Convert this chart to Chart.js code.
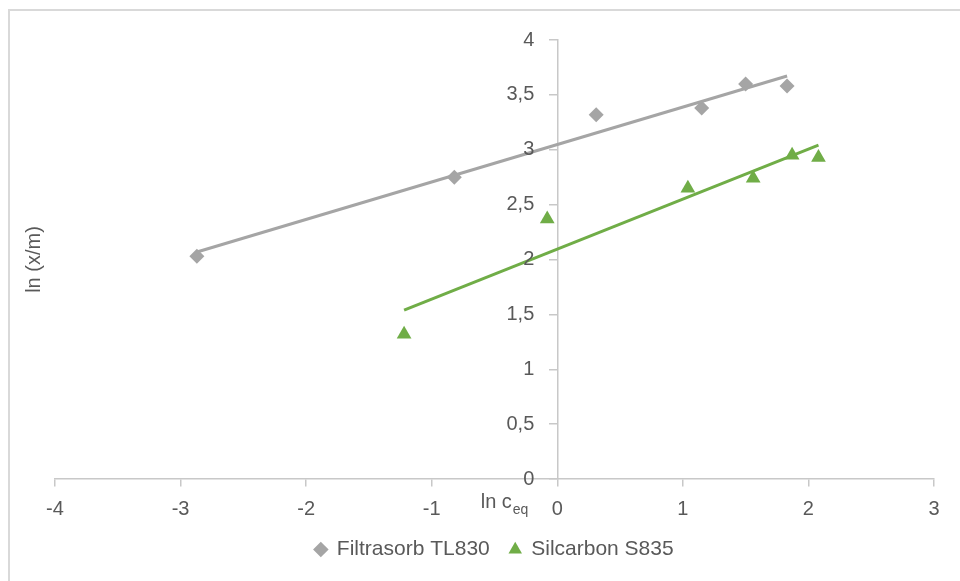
<!DOCTYPE html>
<html>
<head>
<meta charset="utf-8">
<script src="https://cdn.jsdelivr.net/npm/chart.js@4.4.1/dist/chart.umd.min.js"></script>
<style>
  html, body { margin: 0; padding: 0; background: #ffffff; }
  #wrap { width: 960px; height: 581px; }
</style>
</head>
<body>
<div id="wrap"><canvas id="isothermChart" width="960" height="581"></canvas></div>
<script>
// ln c_eq / ln (x/m)
const filtrasorbX = [-2.87, -0.82, 0.31, 1.15, 1.50, 1.83];
const filtrasorbY = [2.03, 2.75, 3.32, 3.38, 3.60, 3.58];
const silcarbonX = [-1.22, -0.08, 1.04, 1.56, 1.87, 2.08];
const silcarbonY = [1.32, 2.37, 2.65, 2.74, 2.95, 2.93];

const seriesNames = ['Filtrasorb TL830', 'Silcarbon S835'];
const xTicks = [-4, -3, -2, -1, 0, 1, 2, 3];
const yTicks = [0, 0.5, 1, 1.5, 2, 2.5, 3, 3.5, 4];

const textColor = '#595959';
const axisColor = '#c8c8c8';
const fontFamily = '"Liberation Sans", Arial, sans-serif';

function toPoints(xs, ys) {
    return xs.map((x, i) => ({ x: x, y: ys[i] }));
}

function commaLabel(v) {
    return String(v).replace('.', ',');
}

// linear least squares trendline, spanning the data range
function trendLine(xs, ys) {
    const n = xs.length;
    const mx = xs.reduce((a, b) => a + b, 0) / n;
    const my = ys.reduce((a, b) => a + b, 0) / n;
    let sxy = 0, sxx = 0;
    for (let i = 0; i < n; i++) {
        sxy += (xs[i] - mx) * (ys[i] - my);
        sxx += (xs[i] - mx) * (xs[i] - mx);
    }
    const slope = sxy / sxx;
    const icpt = my - slope * mx;
    const x0 = Math.min(...xs), x1 = Math.max(...xs);
    return [{ x: x0, y: icpt + slope * x0 }, { x: x1, y: icpt + slope * x1 }];
}

// frame, y tick labels (axis sits at x = 0) and axis titles
const extrasPlugin = {
    id: 'extras',
    beforeDraw(chart) {
        const ctx = chart.ctx;
        ctx.save();
        ctx.strokeStyle = '#d9d9d9';
        ctx.lineWidth = 2;
        ctx.strokeRect(9, 10, 1200, 1200);
        ctx.restore();
    },
    afterDraw(chart) {
        const ctx = chart.ctx;
        const area = chart.chartArea;
        const xs = chart.scales.x;
        const ys = chart.scales.y;
        ctx.save();
        ctx.fillStyle = textColor;
        ctx.font = '20px ' + fontFamily;

        // y tick labels, left of the crossing axis
        const axisX = xs.getPixelForValue(0);
        ctx.textAlign = 'right';
        ctx.textBaseline = 'middle';
        ys.ticks.forEach(t => {
            ctx.fillText(commaLabel(t.value), axisX - 23, ys.getPixelForValue(t.value));
        });

        // y title
        ctx.translate(34, (area.top + area.bottom) / 2);
        ctx.rotate(-Math.PI / 2);
        ctx.textAlign = 'center';
        ctx.fillText('ln (x/m)', 0, 0);
        ctx.setTransform(1, 0, 0, 1, 0, 0);

        // x title with subscript
        const left = xs.getPixelForValue(-0.61);
        const base = area.bottom + 29;
        ctx.textAlign = 'left';
        ctx.textBaseline = 'alphabetic';
        ctx.fillText('ln c', left, base);
        const w = ctx.measureText('ln c').width;
        ctx.font = '14px ' + fontFamily;
        ctx.fillText('eq', left + w + 1, base + 6);
        ctx.restore();
    }
};

const ctx = document.getElementById('isothermChart').getContext('2d');

const isothermChart = new Chart(ctx, {
    type: 'scatter',
    data: {
        datasets: [
            {
                label: seriesNames[0] + ' trend',
                data: trendLine(filtrasorbX, filtrasorbY),
                showLine: true,
                borderColor: '#a5a5a5',
                borderWidth: 3,
                pointRadius: 0,
                order: 0
            },
            {
                label: seriesNames[1] + ' trend',
                data: trendLine(silcarbonX, silcarbonY),
                showLine: true,
                borderColor: '#70ad47',
                borderWidth: 3,
                pointRadius: 0,
                order: 0
            },
            {
                label: seriesNames[0],
                data: toPoints(filtrasorbX, filtrasorbY),
                pointStyle: 'rectRot',
                pointRadius: 7.5,
                backgroundColor: '#a5a5a5',
                borderColor: '#a5a5a5',
                borderWidth: 0,
                order: 1
            },
            {
                label: seriesNames[1],
                data: toPoints(silcarbonX, silcarbonY),
                pointStyle: 'triangle',
                pointRadius: 8.5,
                backgroundColor: '#70ad47',
                borderColor: '#70ad47',
                borderWidth: 0,
                order: 1
            }
        ]
    },
    options: {
        responsive: false,
        animation: false,
        devicePixelRatio: 1,
        layout: { padding: { left: 55, right: 26, top: 40, bottom: 11 } },
        plugins: {
            tooltip: { enabled: false },
            legend: {
                position: 'bottom',
                labels: {
                    usePointStyle: true,
                    boxWidth: 11,
                    boxHeight: 11,
                    padding: 20,
                    color: textColor,
                    font: { family: fontFamily, size: 21 },
                    filter: item => seriesNames.includes(item.text)
                }
            }
        },
        scales: {
            x: {
                type: 'linear',
                position: 'bottom',
                min: xTicks[0],
                max: xTicks[xTicks.length - 1],
                afterBuildTicks: axis => { axis.ticks = xTicks.map(v => ({ value: v })); },
                // long tick slot so the labels sit low, but only 7px of the mark is drawn
                grid: {
                    display: true, drawOnChartArea: false, drawTicks: true,
                    tickLength: 20, tickBorderDash: [7, 200],
                    color: axisColor, lineWidth: 1.5
                },
                border: { display: true, color: axisColor, width: 1.5 },
                ticks: {
                    color: textColor,
                    padding: 0,
                    font: { family: fontFamily, size: 20, lineHeight: 1 },
                    maxRotation: 0
                }
            },
            y: {
                type: 'linear',
                position: { x: 0 },
                min: yTicks[0],
                max: yTicks[yTicks.length - 1],
                afterBuildTicks: axis => { axis.ticks = yTicks.map(v => ({ value: v })); },
                grid: { display: true, drawOnChartArea: false, drawTicks: true, tickLength: 8, color: axisColor, lineWidth: 1.5 },
                border: { display: true, color: axisColor, width: 1.5 },
                ticks: { display: false }
            }
        }
    },
    plugins: [extrasPlugin]
});
</script>
</body>
</html>
